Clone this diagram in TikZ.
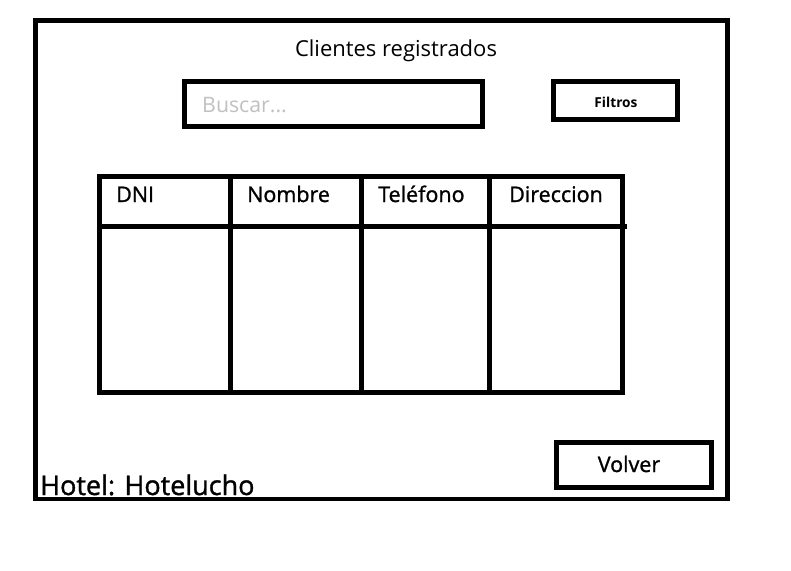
\documentclass[tikz,border=0pt]{standalone}
\usepackage{fontspec}
\setmainfont{Open Sans}
\newfontfamily\semifont{Open Sans}[FakeBold=1.2]
\usetikzlibrary{positioning}
\definecolor{hintgray}{RGB}{192,192,192}
\tikzset{
    window/.style={draw, line width=4.5pt},
    box/.style={rectangle, draw, line width=5pt, inner sep=0pt, outer sep=0pt, align=center},
    tableline/.style={line width=5pt},
    txt/.style={inner sep=0pt, anchor=base west, font=\fontsize{22}{26}\selectfont},
    heavy/.style={txt, font=\semifont\fontsize{21.5}{26}\selectfont},
    hint/.style={txt, text=hintgray, font=\fontsize{21.3}{26}\selectfont}
}
\begin{document}
\begin{tikzpicture}[x=1pt, y=-1pt]
        \useasboundingbox (0,0) rectangle (791,570);
        \draw [window] (35.5,20.5) rectangle (727.5,499);
        \node (title) [txt, anchor=base] at (396,56) {Clientes registrados};

        % Search Row
        \node (search) [box, minimum width=298pt, minimum height=45pt] at (333.5,104) {};
        \node (search_hint) [hint] at (202,112) {Buscar...};
        \node (filters) [box, minimum width=124pt, minimum height=37.5pt] at (615.5,100.5) {};
        \node (filters_text) [txt, anchor=base, font=\bfseries\fontsize{13.7}{16}\selectfont] at (616,107.5) {Filtros};

        % Client Table
        \draw [tableline] (99.8,176) rectangle (622.5,392);
        \draw [tableline] (99.8,226.5) -- (627,226.5);
        \draw [tableline] (230.5,176) -- (230.5,392);
        \draw [tableline] (361.5,176) -- (361.5,395);
        \draw [tableline] (489.5,176) -- (489.5,395);
        \node (col_dni) [heavy] at (116,202) {DNI};
        \node (col_name) [heavy] at (247,202) {Nombre};
        \node (col_phone) [heavy] at (378,202) {Teléfono};
        \node (col_address) [heavy] at (509,202) {Direccion};

        % Footer
        \node (back) [box, minimum width=155pt, minimum height=45pt] at (633.5,464.5) {};
        \node (back_text) [heavy, anchor=base] at (629,472) {Volver};
        \node (hotel) [heavy, font=\semifont\fontsize{27}{31}\selectfont] at (40,495) {Hotel: Hotelucho};
    \end{tikzpicture}
\end{document}
